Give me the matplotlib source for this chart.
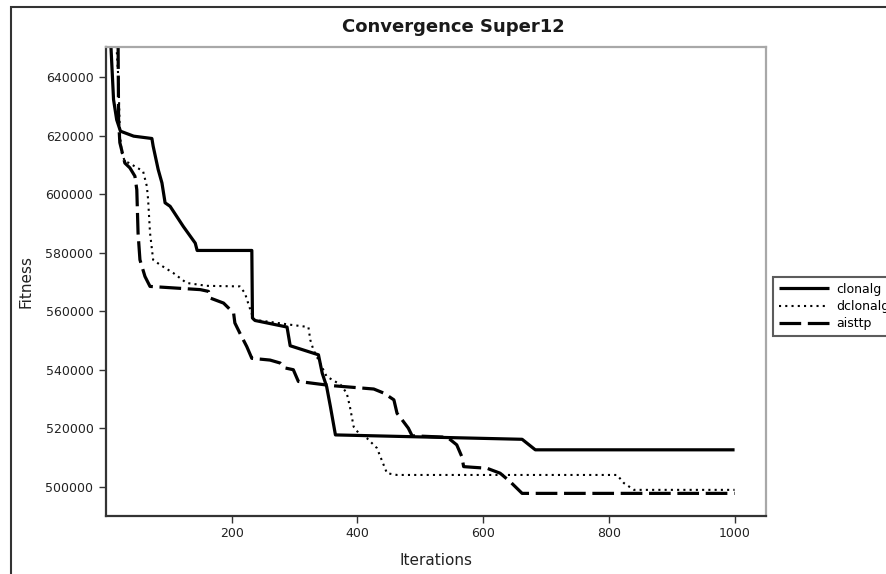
import matplotlib
matplotlib.use("Agg")
import matplotlib.pyplot as plt
from matplotlib.patches import Rectangle

# Best fitness per iteration for each algorithm (breakpoints of the curves)
clonalg_iter = [1, 8, 12, 17, 23, 44, 73, 75, 83, 89, 94, 102, 123, 142, 145,
                232, 233, 237, 288, 293, 338, 344, 351, 357, 365, 662, 683, 1000]
clonalg_fit = [668000, 650000, 632400, 625500, 621600, 619900, 619100, 616500,
               608500, 603900, 597100, 595900, 589000, 583300, 580800, 580800,
               557700, 556850, 554600, 548200, 545100, 538800, 534250, 527400,
               517700, 516200, 512600, 512600]

dclonalg_iter = [15, 17, 20, 22, 25, 30, 36, 59, 65, 67, 70, 75, 86, 107, 128,
                 160, 213, 221, 227, 235, 256, 293, 322, 325, 330, 351, 373,
                 383, 388, 394, 402, 415, 431, 447, 463, 813, 824, 840, 1000]
dclonalg_fit = [655000, 649600, 638300, 621100, 614300, 611200, 610800, 607900,
                602750, 598200, 586900, 577600, 575900, 573100, 569700, 568700,
                568500, 566200, 562200, 557100, 556500, 555400, 554600, 550200,
                546800, 537700, 534900, 532000, 527400, 520500, 518300, 516600,
                513200, 504600, 504000, 504000, 501200, 498900, 498900]

aisttp_iter = [19, 20, 22, 30, 38, 46, 49, 51, 54, 62, 70, 150, 163, 166, 187,
               203, 205, 213, 224, 232, 261, 277, 285, 298, 306, 335, 357, 426,
               442, 458, 463, 473, 481, 487, 543, 558, 566, 569, 585, 606, 627,
               643, 662, 1000]
aisttp_fit = [660000, 625600, 617700, 610700, 609050, 606200, 601600, 586800,
              577600, 571900, 568500, 567400, 566800, 564500, 562800, 559400,
              556000, 552500, 547900, 543900, 543300, 542300, 540600, 540000,
              536000, 535200, 534600, 533400, 532000, 529700, 525100, 522300,
              520000, 517400, 516900, 514300, 510300, 506850, 506600, 506300,
              504600, 501700, 497700, 497700]

x_ticks = [200, 400, 600, 800, 1000]
y_ticks = [500000, 520000, 540000, 560000, 580000, 600000, 620000, 640000]

plt.rcParams['font.family'] = ['DejaVu Sans']

fig = plt.figure(figsize=(8.86, 5.74), dpi=100)
ax = fig.add_axes([106 / 886, 1 - 516 / 574, 660 / 886, 469 / 574])

lw_solid = 2.3
lw_dash = 2.3
lw_dot = 1.5
ax.plot(clonalg_iter, clonalg_fit, color='black', lw=lw_solid,
        solid_capstyle='butt', label='clonalg')
ax.plot(dclonalg_iter, dclonalg_fit, color='black', lw=lw_dot,
        dashes=(1.5 / lw_dot, 3.0 / lw_dot), label='dclonalg')
ax.plot(aisttp_iter, aisttp_fit, color='black', lw=lw_dash,
        dashes=(15.6 / lw_dash, 4.8 / lw_dash), label='aisttp')

ax.set_xlim(0, 1050)
ax.set_ylim(489960, 650400)
ax.set_xticks(x_ticks)
ax.set_xticklabels([str(v) for v in x_ticks])
ax.set_yticks(y_ticks)
ax.set_yticklabels([str(v) for v in y_ticks])

for side in ('left', 'bottom'):
    ax.spines[side].set_color('#333333')
    ax.spines[side].set_linewidth(1.6)
for side in ('top', 'right'):
    ax.spines[side].set_color('#a8a8a8')
    ax.spines[side].set_linewidth(1.6)

ax.tick_params(axis='both', which='both', direction='out', length=5,
               width=1.0, color='#333333', labelsize=9, labelcolor='#222222')
ax.tick_params(axis='y', pad=4)
ax.tick_params(axis='x', pad=3)
ax.tick_params(top=False, right=False)

ax.set_xlabel('Iterations', fontsize=11, color='#222222', labelpad=9)
ax.set_ylabel('Fitness', fontsize=11, color='#222222', labelpad=9)

fig.text(453 / 886, 1 - 27 / 574, 'Convergence Super12', fontsize=13,
         fontweight='bold', ha='center', va='center', color='#1a1a1a')

leg = ax.legend(loc='upper left', bbox_to_anchor=(773 / 886, 1 - 277 / 574),
                bbox_transform=fig.transFigure, frameon=True, fancybox=False,
                fontsize=9, handlelength=4.0, handletextpad=0.6,
                labelspacing=0.35, borderpad=0.45, borderaxespad=0)
leg.get_frame().set_edgecolor('#333333')
leg.get_frame().set_linewidth(1.5)

# Outer frame of the figure
fig.patches.append(Rectangle((11 / 886, -0.1), 1.2, 1.1 - 7 / 574,
                             transform=fig.transFigure, fill=False,
                             edgecolor='#333333', lw=1.5, zorder=0))

fig.savefig('out.png', dpi=100)
